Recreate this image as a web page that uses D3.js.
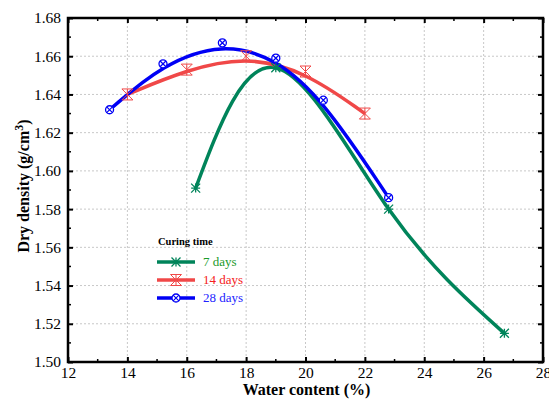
<!DOCTYPE html>
<html>
<head>
<meta charset="utf-8">
<script src="https://cdn.jsdelivr.net/npm/d3@7/dist/d3.min.js"></script>
<style>
  body { margin: 0; background: #fff; }
  svg { display: block; }
</style>
</head>
<body>
<svg id="chart" width="549" height="399"></svg>
<script>
// Water content (%) and dry density (g/cm3) for each curing time
const water7 = [16.3, 19.0, 22.8, 26.7];
const density7 = [1.591, 1.654, 1.580, 1.515];
const water14 = [14.0, 16.0, 18.0, 20.0, 22.0];
const density14 = [1.640, 1.653, 1.660, 1.652, 1.630];
const water28 = [13.4, 15.2, 17.2, 19.0, 20.6, 22.8];
const density28 = [1.632, 1.656, 1.667, 1.659, 1.637, 1.586];

const seriesNames = ["7 days", "14 days", "28 days"];
const xTicks = [12, 14, 16, 18, 20, 22, 24, 26, 28];
const yTicks = [1.50, 1.52, 1.54, 1.56, 1.58, 1.60, 1.62, 1.64, 1.66, 1.68];

const svg = d3.select("#chart");
const mLeft = 68, mRight = 543, mTop = 18, mBottom = 362;

const x = d3.scaleLinear().domain([12, 28]).range([mLeft, mRight]);
const y = d3.scaleLinear().domain([1.50, 1.68]).range([mBottom, mTop]);

const serif = "Liberation Serif";

// dotted grid at major ticks
const grid = svg.append("g");
grid.selectAll(".gx").data(xTicks.slice(1, -1)).join("line")
  .attr("x1", d => x(d)).attr("x2", d => x(d))
  .attr("y1", mTop).attr("y2", mBottom)
  .attr("stroke", "#c8c8c8").attr("stroke-width", 1).attr("stroke-dasharray", "2,2");
grid.selectAll(".gy").data(yTicks.slice(1, -1)).join("line")
  .attr("y1", d => y(d)).attr("y2", d => y(d))
  .attr("x1", mLeft).attr("x2", mRight)
  .attr("stroke", "#c8c8c8").attr("stroke-width", 1).attr("stroke-dasharray", "2,2");

// curves
const ptsOf = (xs, ys) => xs.map((v, i) => [x(v), y(ys[i])]);
const series = [
  { name: seriesNames[0], pts: ptsOf(water7, density7), color: "#00845a", text: "#1a9a2a", curve: d3.curveNatural, marker: "star" },
  { name: seriesNames[1], pts: ptsOf(water14, density14), color: "#f04848", text: "#f52020", curve: d3.curveBasis, marker: "hour" },
  { name: seriesNames[2], pts: ptsOf(water28, density28), color: "#0000f5", text: "#2222ff", curve: d3.curveBasis, marker: "circx" }
];

function drawMarker(g, type, cx, cy, color) {
  if (type === "star") {
    const r = 4.5;
    g.append("path")
      .attr("d", `M${cx - r},${cy - r}L${cx + r},${cy + r}M${cx - r},${cy + r}L${cx + r},${cy - r}M${cx - r},${cy}L${cx + r},${cy}M${cx},${cy - r}L${cx},${cy + r}`)
      .attr("stroke", color).attr("stroke-width", 1.3).attr("fill", "none");
  } else if (type === "hour") {
    const r = 5.5;
    g.append("path")
      .attr("d", `M${cx - r},${cy - r}L${cx + r},${cy - r}L${cx - r},${cy + r}L${cx + r},${cy + r}Z M${cx},${cy - r}L${cx},${cy + r}`)
      .attr("stroke", color).attr("stroke-width", 1).attr("fill", "none");
  } else {
    const r = 4;
    const k = r * 0.72;
    g.append("circle").attr("cx", cx).attr("cy", cy).attr("r", r)
      .attr("stroke", color).attr("stroke-width", 1.3).attr("fill", "#fff");
    g.append("path")
      .attr("d", `M${cx - k},${cy - k}L${cx + k},${cy + k}M${cx - k},${cy + k}L${cx + k},${cy - k}`)
      .attr("stroke", color).attr("stroke-width", 1.2);
  }
}

const plot = svg.append("g");
series.forEach(s => {
  plot.append("path")
    .attr("d", d3.line().curve(s.curve)(s.pts))
    .attr("fill", "none").attr("stroke", s.color).attr("stroke-width", 3.5);
});
series.forEach(s => {
  const mg = plot.append("g");
  s.pts.forEach(p => drawMarker(mg, s.marker, p[0], p[1], s.color));
});

// frame and axes
svg.append("rect").attr("x", mLeft).attr("y", mTop).attr("width", mRight - mLeft).attr("height", mBottom - mTop)
  .attr("fill", "none").attr("stroke", "#000").attr("stroke-width", 2.5);

const xMinor = d3.range(13, 28, 2);
const yMinor = d3.range(1.51, 1.68, 0.02);

const axB = d3.axisBottom(x).tickValues(xTicks).tickSize(-5).tickPadding(5).tickFormat(d3.format("d"));
const axL = d3.axisLeft(y).tickValues(yTicks).tickSize(-5).tickPadding(7).tickFormat(d3.format(".2f"));
const axT = d3.axisTop(x).tickValues(xTicks).tickSize(-5).tickFormat("");
const axR = d3.axisRight(y).tickValues(yTicks).tickSize(-5).tickFormat("");

function style(g) {
  g.select(".domain").remove();
  g.selectAll(".tick line").attr("stroke", "#000").attr("stroke-width", 2);
  g.selectAll(".tick text").attr("font-family", serif).attr("font-size", 15.5).attr("fill", "#000");
}
svg.append("g").attr("transform", `translate(0,${mBottom})`).call(axB).call(style);
svg.append("g").attr("transform", `translate(${mLeft},0)`).call(axL).call(style);
svg.append("g").attr("transform", `translate(0,${mTop})`).call(axT).call(style);
svg.append("g").attr("transform", `translate(${mRight},0)`).call(axR).call(style);

// minor ticks
const minor = svg.append("g").attr("stroke", "#000").attr("stroke-width", 1.5);
xMinor.forEach(v => {
  minor.append("line").attr("x1", x(v)).attr("x2", x(v)).attr("y1", mBottom).attr("y2", mBottom - 3);
  minor.append("line").attr("x1", x(v)).attr("x2", x(v)).attr("y1", mTop).attr("y2", mTop + 3);
});
yMinor.forEach(v => {
  minor.append("line").attr("y1", y(v)).attr("y2", y(v)).attr("x1", mLeft).attr("x2", mLeft + 3);
  minor.append("line").attr("y1", y(v)).attr("y2", y(v)).attr("x1", mRight).attr("x2", mRight - 3);
});

// axis titles
svg.append("text").attr("x", (mLeft + mRight) / 2 + 1).attr("y", 395)
  .attr("text-anchor", "middle").attr("font-family", serif).attr("font-size", 16).attr("font-weight", "bold")
  .text("Water content (%)");
const yt = svg.append("text").attr("transform", `translate(29,${(mTop + mBottom) / 2 - 4}) rotate(-90)`)
  .attr("text-anchor", "middle").attr("font-family", serif).attr("font-size", 16).attr("font-weight", "bold");
yt.append("tspan").text("Dry density (g/cm");
yt.append("tspan").attr("dy", -6).attr("font-size", 12).text("3");
yt.append("tspan").attr("dy", 6).text(")");

// legend
const lg = svg.append("g");
lg.append("text").attr("x", 158).attr("y", 245).attr("font-family", serif)
  .attr("font-size", 10.5).attr("font-weight", "bold").text("Curing time");
series.forEach((s, i) => {
  const ly = 262 + i * 18;
  lg.append("line").attr("x1", 157).attr("x2", 195).attr("y1", ly).attr("y2", ly)
    .attr("stroke", s.color).attr("stroke-width", 3.5);
  drawMarker(lg, s.marker, 176, ly, s.color);
  lg.append("text").attr("x", 203).attr("y", ly + 4).attr("font-family", serif)
    .attr("font-size", 13).attr("fill", s.text).text(s.name);
});
</script>
</body>
</html>
